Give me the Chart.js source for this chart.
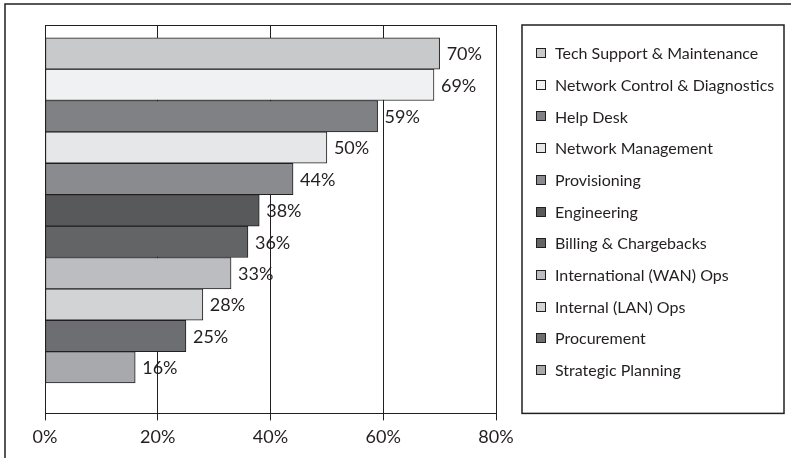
<!DOCTYPE html>
<html>
<head>
<meta charset="utf-8">
<script src="https://cdn.jsdelivr.net/npm/chart.js@4/dist/chart.umd.min.js"></script>
<style>
  html, body { margin: 0; padding: 0; background: #fff; }
  #wrap { width: 791px; height: 458px; }
</style>
</head>
<body>
<div id="wrap"><canvas id="deptChart" width="791" height="458"></canvas></div>
<script>
const seriesNames = [
  'Tech Support & Maintenance',
  'Network Control & Diagnostics',
  'Help Desk',
  'Network Management',
  'Provisioning',
  'Engineering',
  'Billing & Chargebacks',
  'International (WAN) Ops',
  'Internal (LAN) Ops',
  'Procurement',
  'Strategic Planning'
];
const seriesValues = [70, 69, 59, 50, 44, 38, 36, 33, 28, 25, 16];
const barColors = [
  '#c8c9cb', '#f0f1f3', '#808184', '#e6e7e8', '#8a8b8e', '#58595b',
  '#636466', '#bcbdc0', '#d1d3d4', '#6d6e71', '#a7a9ac'
];
const xTicks = [0, 20, 40, 60, 80];

const ink = '#231f20';
const fontFamily = 'Lato, "Open Sans", sans-serif';

// frame lines, plot box, value labels and the boxed legend
const decorations = {
  id: 'decorations',
  beforeDraw(chart) {
    const c = chart.ctx;
    c.save();
    c.fillStyle = '#fff';
    c.fillRect(0, 0, chart.width, chart.height);
    c.strokeStyle = ink;
    c.lineWidth = 1.5;
    c.beginPath();
    c.moveTo(5, chart.height);
    c.lineTo(5, 4);
    c.lineTo(chart.width, 4);
    c.stroke();
    c.restore();
  },
  afterDatasetsDraw(chart) {
    const c = chart.ctx;
    const a = chart.chartArea;
    c.save();
    c.strokeStyle = ink;
    c.lineWidth = 1;
    c.strokeRect(Math.round(a.left) + 0.5, Math.round(a.top) + 0.5,
                 Math.round(a.right - a.left), Math.round(a.bottom - a.top));

    c.fillStyle = ink;
    c.font = '18px ' + fontFamily;
    c.textBaseline = 'middle';
    c.textAlign = 'left';
    chart.data.datasets.forEach((ds, i) => {
      const bar = chart.getDatasetMeta(i).data[0];
      c.fillText(seriesValues[i] + '%', bar.x + 7, bar.y + 1);
    });

    // legend box
    const lx = a.right + 26, rx = chart.width - 7;
    c.lineWidth = 1.5;
    c.strokeRect(lx, a.top, rx - lx, a.bottom - a.top);
    c.font = '16px ' + fontFamily;
    c.lineWidth = 1;
    seriesNames.forEach((name, i) => {
      const y = a.top + 28 + i * 31.7;
      c.fillStyle = barColors[i];
      c.fillRect(lx + 14, Math.round(y - 5), 10, 10);
      c.strokeStyle = ink;
      c.strokeRect(lx + 14.5, Math.round(y - 5) + 0.5, 9, 9);
      c.fillStyle = ink;
      c.fillText(name, lx + 33, y + 1);
    });
    c.restore();
  }
};

new Chart(document.getElementById('deptChart'), {
  type: 'bar',
  data: {
    datasets: seriesNames.map((name, i) => ({
      label: name,
      data: [{ x: seriesValues[i], y: i + 1 }],
      backgroundColor: barColors[i],
      borderColor: ink,
      borderWidth: 1,
      borderSkipped: false,
      grouped: false,
      categoryPercentage: 1,
      barPercentage: 1
    }))
  },
  options: {
    indexAxis: 'y',
    responsive: false,
    animation: false,
    devicePixelRatio: 1,
    layout: { padding: { left: 45, right: 295, top: 25, bottom: 4 } },
    scales: {
      x: {
        type: 'linear',
        min: xTicks[0],
        max: xTicks[xTicks.length - 1],
        afterBuildTicks: (scale) => { scale.ticks = xTicks.map(v => ({ value: v })); },
        ticks: {
          callback: (v) => v + '%',
          color: ink,
          padding: 6,
          font: { family: fontFamily, size: 18 }
        },
        grid: { color: ink, lineWidth: 1, tickLength: 7 },
        border: { color: ink, width: 1 }
      },
      y: {
        type: 'linear',
        reverse: true,
        bounds: 'data',
        offset: false,
        grace: 0,
        min: 0.095,
        max: 12.467,
        display: false,
        afterBuildTicks: (scale) => {
          scale.ticks = seriesNames.map((n, i) => ({ value: i + 1 }));
        }
      }
    },
    plugins: {
      legend: { display: false },
      tooltip: { enabled: false }
    }
  },
  plugins: [decorations]
});
</script>
</body>
</html>
